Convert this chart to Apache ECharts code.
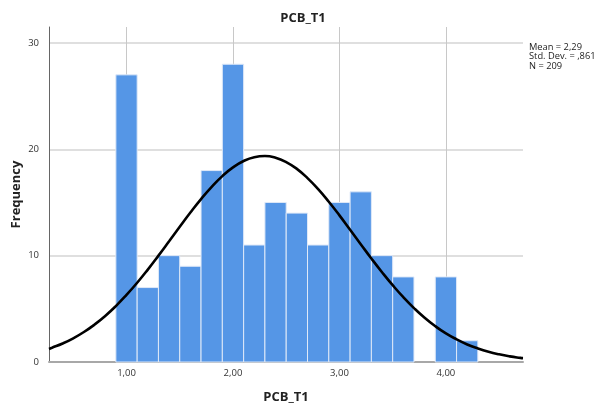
<!DOCTYPE html>
<html>
<head>
<meta charset="utf-8">
<script src="https://cdn.jsdelivr.net/npm/echarts@6/dist/echarts.min.js"></script>
<style>html,body{margin:0;padding:0;background:#fff}#c{width:600px;height:409px}</style>
</head>
<body>
<div id="c"></div>
<script>
// Histogram bins (centers) and frequencies
const binCenters = [1.0, 1.2, 1.4, 1.6, 1.8, 2.0, 2.2, 2.4, 2.6, 2.8, 3.0, 3.2, 3.4, 3.6, 3.8, 4.0, 4.2];
const frequencies = [27, 7, 10, 9, 18, 28, 11, 15, 14, 11, 15, 16, 10, 8, 0, 8, 2];
const binWidth = 0.2;
// Normal curve
const curveX = [0.272,0.3,0.4,0.5,0.6,0.7,0.8,0.9,1.0,1.1,1.2,1.3,1.4,1.5,1.6,1.7,1.8,1.9,2.0,2.1,2.2,2.3,2.4,2.5,2.6,2.7,2.8,2.9,3.0,3.1,3.2,3.3,3.4,3.5,3.6,3.7,3.8,3.9,4.0,4.1,4.2,4.3,4.4,4.5,4.6,4.7,4.724];
const curveY = [1.23,1.34,1.74,2.23,2.82,3.52,4.33,5.26,6.31,7.45,8.69,10.00,11.35,12.71,14.05,15.32,16.47,17.48,18.30,18.90,19.26,19.37,19.21,18.80,18.16,17.29,16.25,15.07,13.79,12.44,11.08,9.73,8.44,7.22,6.09,5.07,4.16,3.37,2.69,2.13,1.65,1.27,0.96,0.72,0.53,0.385,0.36];
const xTickValues = [1, 2, 3, 4];
const xTickLabels = ['1,00', '2,00', '3,00', '4,00'];
const yTickValues = [0, 10, 20, 30];
const statsLines = ['Mean = 2,29', 'Std. Dev. = ,861', 'N = 209'];
const titleText = 'PCB_T1';
const xName = 'PCB_T1';
const yName = 'Frequency';

const chart = echarts.init(document.getElementById('c'), null, {renderer: 'canvas'});
const barData = binCenters.map((c, i) => [c, frequencies[i]]);
const curveData = curveX.map((x, i) => [x, curveY[i]]);

const option = {
  animation: false,
  title: {
    text: titleText, left: 298, top: 7, textAlign: 'center',
    textStyle: {fontFamily: 'Open Sans', fontSize: 13, fontWeight: 'bold', color: '#222'}
  },
  grid: {left: 49, right: 77, top: 27, bottom: 47, containLabel: false, outerBoundsMode: 'none'},
  xAxis: {
    type: 'value', min: 0.272, max: 4.724,
    name: xName, nameLocation: 'middle', nameGap: 29, nameMoveOverlap: false,
    nameTextStyle: {fontFamily: 'Open Sans', fontSize: 13, fontWeight: 'bold', color: '#222'},
    axisLine: {show: true, lineStyle: {color: '#a8a8a8', width: 2}},
    axisTick: {show: false, customValues: xTickValues},
    axisLabel: {
      customValues: xTickValues, margin: 6,
      formatter: v => xTickLabels[xTickValues.indexOf(Math.round(v))] || '',
      fontFamily: 'Open Sans', fontSize: 9.5, color: '#333'
    },
    splitLine: {show: true, lineStyle: {color: '#c8c8c8', width: 1}}
  },
  yAxis: {
    type: 'value', min: 0, max: 31.5,
    name: yName, nameLocation: 'middle', nameGap: 26, nameMoveOverlap: false,
    nameTextStyle: {fontFamily: 'Open Sans', fontSize: 13, fontWeight: 'bold', color: '#222'},
    axisLine: {show: true, lineStyle: {color: '#666', width: 1}},
    axisTick: {show: false, customValues: yTickValues},
    axisLabel: {customValues: yTickValues, margin: 10, fontFamily: 'Open Sans', fontSize: 9.5, color: '#333'},
    splitLine: {show: true, lineStyle: {color: '#d4d4d4', width: 1.5}}
  },
  series: [
    {
      type: 'custom', z: 2,
      data: barData,
      renderItem: function (params, api) {
        const c = api.value(0), v = api.value(1);
        if (!v) return null;
        const p0 = api.coord([c - binWidth / 2, v]);
        const p1 = api.coord([c + binWidth / 2, 0]);
        return {
          type: 'rect',
          shape: {x: p0[0], y: p0[1], width: p1[0] - p0[0], height: p1[1] - p0[1]},
          style: {fill: '#5596e6', stroke: '#dfe9f8', lineWidth: 1}
        };
      }
    },
    {
      type: 'line', z: 3, data: curveData, smooth: true, showSymbol: false,
      lineStyle: {color: '#000', width: 2.6}
    }
  ],
  graphic: statsLines.map((t, i) => ({
    type: 'text', left: 529, top: 43 + i * 9.3,
    style: {text: t, fontFamily: 'Open Sans', fontSize: 9.3, fill: '#222'}
  }))
};
chart.setOption(option);
</script>
</body>
</html>
